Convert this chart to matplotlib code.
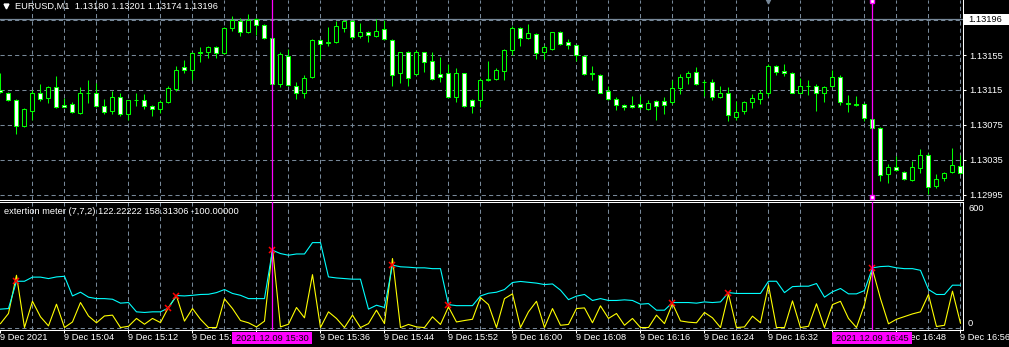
import matplotlib
matplotlib.use("Agg")
import numpy as np
import matplotlib.pyplot as plt
import matplotlib.transforms as mtransforms
from matplotlib.patches import Rectangle

plt.rcParams["font.family"] = ["Liberation Sans", "DejaVu Sans"]

# EURUSD M1, one bar per minute, 9 Dec 2021 14:56 .. 16:56
bar_open = [1.13115, 1.13112, 1.13104, 1.13074, 1.13091, 1.13112, 1.13106, 1.13118, 1.13098, 1.13099,
            1.13089, 1.13112, 1.13112, 1.13097, 1.13091, 1.13107, 1.13087, 1.13103, 1.13103, 1.13097,
            1.13093, 1.13101, 1.13116, 1.13141, 1.13138, 1.13157, 1.13158, 1.13164, 1.13157, 1.13186,
            1.13194, 1.13181, 1.13196, 1.13189, 1.13174, 1.13122, 1.13154, 1.13120, 1.13112, 1.13130,
            1.13172, 1.13169, 1.13170, 1.13186, 1.13194, 1.13177, 1.13181, 1.13177, 1.13185, 1.13172,
            1.13134, 1.13158, 1.13133, 1.13158, 1.13148, 1.13133, 1.13134, 1.13107, 1.13134, 1.13103,
            1.13103, 1.13127, 1.13128, 1.13137, 1.13161, 1.13186, 1.13175, 1.13179, 1.13158, 1.13162,
            1.13181, 1.13170, 1.13166, 1.13154, 1.13134, 1.13132, 1.13114, 1.13105, 1.13098, 1.13098,
            1.13099, 1.13093, 1.13102, 1.13102, 1.13101, 1.13117, 1.13130, 1.13136, 1.13124, 1.13124,
            1.13107, 1.13112, 1.13084, 1.13091, 1.13101, 1.13105, 1.13112, 1.13143, 1.13137, 1.13135,
            1.13112, 1.13120, 1.13120, 1.13112, 1.13119, 1.13130, 1.13100, 1.13099, 1.13099, 1.13082,
            1.13071, 1.13019, 1.13027, 1.13021, 1.13012, 1.13026, 1.13040, 1.13005, 1.13014, 1.13021,
            1.13028]
bar_high = [1.13135, 1.13113, 1.13105, 1.13094, 1.13115, 1.13122, 1.13119, 1.13131, 1.13106, 1.13101,
            1.13118, 1.13127, 1.13123, 1.13105, 1.13114, 1.13112, 1.13104, 1.13112, 1.13110, 1.13098,
            1.13104, 1.13119, 1.13143, 1.13149, 1.13159, 1.13164, 1.13165, 1.13165, 1.13187, 1.13200,
            1.13197, 1.13202, 1.13197, 1.13191, 1.13175, 1.13159, 1.13162, 1.13124, 1.13132, 1.13173,
            1.13173, 1.13187, 1.13194, 1.13195, 1.13195, 1.13192, 1.13183, 1.13196, 1.13195, 1.13173,
            1.13159, 1.13160, 1.13161, 1.13159, 1.13159, 1.13153, 1.13145, 1.13140, 1.13135, 1.13105,
            1.13129, 1.13148, 1.13140, 1.13162, 1.13188, 1.13187, 1.13191, 1.13180, 1.13166, 1.13182,
            1.13183, 1.13173, 1.13167, 1.13155, 1.13143, 1.13133, 1.13120, 1.13107, 1.13099, 1.13108,
            1.13108, 1.13104, 1.13104, 1.13107, 1.13127, 1.13133, 1.13137, 1.13141, 1.13126, 1.13128,
            1.13120, 1.13118, 1.13102, 1.13102, 1.13110, 1.13115, 1.13145, 1.13144, 1.13145, 1.13136,
            1.13129, 1.13127, 1.13122, 1.13119, 1.13138, 1.13132, 1.13109, 1.13108, 1.13100, 1.13083,
            1.13073, 1.13030, 1.13039, 1.13022, 1.13034, 1.13047, 1.13043, 1.13019, 1.13021, 1.13048,
            1.13040]
bar_low = [1.13112, 1.13102, 1.13065, 1.13073, 1.13081, 1.13102, 1.13100, 1.13094, 1.13095, 1.13089,
           1.13087, 1.13100, 1.13096, 1.13088, 1.13087, 1.13085, 1.13081, 1.13097, 1.13093, 1.13085,
           1.13089, 1.13100, 1.13114, 1.13134, 1.13126, 1.13147, 1.13152, 1.13152, 1.13156, 1.13183,
           1.13177, 1.13180, 1.13178, 1.13173, 1.13113, 1.13118, 1.13120, 1.13105, 1.13106, 1.13129,
           1.13150, 1.13165, 1.13169, 1.13182, 1.13173, 1.13175, 1.13170, 1.13176, 1.13172, 1.13120,
           1.13123, 1.13120, 1.13132, 1.13136, 1.13127, 1.13124, 1.13106, 1.13101, 1.13096, 1.13089,
           1.13095, 1.13125, 1.13126, 1.13127, 1.13155, 1.13165, 1.13173, 1.13150, 1.13150, 1.13161,
           1.13166, 1.13162, 1.13148, 1.13132, 1.13127, 1.13111, 1.13104, 1.13092, 1.13092, 1.13094,
           1.13093, 1.13092, 1.13081, 1.13087, 1.13099, 1.13110, 1.13122, 1.13121, 1.13108, 1.13104,
           1.13106, 1.13080, 1.13081, 1.13088, 1.13094, 1.13099, 1.13108, 1.13132, 1.13131, 1.13111,
           1.13111, 1.13109, 1.13091, 1.13101, 1.13118, 1.13098, 1.13090, 1.13097, 1.13080, 1.13035,
           1.13011, 1.13008, 1.13022, 1.13012, 1.13011, 1.13020, 1.12996, 1.13003, 1.13011, 1.13020,
           1.13019]
bar_close = [1.13113, 1.13103, 1.13074, 1.13093, 1.13112, 1.13105, 1.13118, 1.13096, 1.13096, 1.13090,
             1.13112, 1.13112, 1.13097, 1.13090, 1.13107, 1.13088, 1.13103, 1.13103, 1.13097, 1.13093,
             1.13101, 1.13117, 1.13138, 1.13138, 1.13157, 1.13158, 1.13164, 1.13157, 1.13186, 1.13195,
             1.13182, 1.13195, 1.13189, 1.13174, 1.13122, 1.13156, 1.13121, 1.13112, 1.13129, 1.13172,
             1.13168, 1.13170, 1.13188, 1.13194, 1.13176, 1.13181, 1.13178, 1.13183, 1.13173, 1.13132,
             1.13158, 1.13129, 1.13158, 1.13147, 1.13128, 1.13130, 1.13107, 1.13135, 1.13097, 1.13097,
             1.13127, 1.13128, 1.13138, 1.13161, 1.13186, 1.13174, 1.13180, 1.13157, 1.13164, 1.13181,
             1.13168, 1.13167, 1.13155, 1.13133, 1.13133, 1.13112, 1.13105, 1.13098, 1.13095, 1.13096,
             1.13095, 1.13100, 1.13097, 1.13098, 1.13117, 1.13130, 1.13135, 1.13122, 1.13124, 1.13107,
             1.13112, 1.13086, 1.13090, 1.13101, 1.13106, 1.13111, 1.13143, 1.13136, 1.13135, 1.13112,
             1.13120, 1.13120, 1.13112, 1.13118, 1.13130, 1.13101, 1.13099, 1.13098, 1.13083, 1.13071,
             1.13018, 1.13027, 1.13023, 1.13013, 1.13027, 1.13041, 1.13004, 1.13013, 1.13020, 1.13029,
             1.13020]

# extertion meter buffers
meter_main = [19, 68, 253, 0, 127, 52, 8, 113, 0, 27,
              121, 56, 23, 56, 60, 0, 6, 44, 16, 44,
              24, 98, 153, 31, 92, 40, 0, 0, 139, 92,
              34, 23, 3, 31, 386, 3, 16, 97, 47, 256,
              0, 76, 44, 0, 60, 0, 19, 84, 19, 334,
              0, 15, 3, 0, 52, 15, 100, 27, 34, 40,
              145, 111, 0, 140, 163, 0, 76, 127, 0, 92,
              11, 15, 92, 95, 23, 105, 44, 68, 11, 44,
              0, 0, 60, 19, 116, 32, 26, 23, 73, 47,
              0, 163, 0, 3, 55, 23, 205, 0, 0, 129,
              0, 6, 115, 0, 111, 127, 44, 0, 111, 282,
              140, 18, 40, 53, 66, 76, 160, 5, 11, 176,
              21]
meter_level = [89, 92, 224, 224, 244, 244, 237, 245, 248, 153,
               171, 147, 140, 140, 137, 118, 121, 76, 73, 76,
               76, 95, 155, 153, 156, 160, 161, 169, 184, 165,
               156, 140, 140, 140, 374, 358, 350, 356, 356, 411,
               411, 245, 240, 237, 234, 234, 89, 108, 97, 302,
               294, 292, 289, 289, 285, 285, 111, 106, 106, 106,
               153, 166, 171, 184, 218, 223, 219, 215, 208, 211,
               181, 135, 152, 160, 131, 140, 131, 131, 134, 131,
               113, 116, 84, 84, 121, 121, 121, 118, 124, 121,
               124, 169, 165, 165, 165, 165, 224, 224, 169, 198,
               200, 200, 213, 147, 173, 189, 163, 163, 179, 289,
               295, 297, 289, 285, 285, 277, 184, 160, 160, 205,
               205]
signal_bars = [2, 21, 22, 34, 49, 56, 84, 91, 109]

# labels at 15:28 and 16:40 sit under the time boxes, so they stay empty
time_ticks = list(range(0, 121, 8))
time_labels = ["9 Dec 2021", "9 Dec 15:04", "9 Dec 15:12", "9 Dec 15:20", "",
               "9 Dec 15:36", "9 Dec 15:44", "9 Dec 15:52", "9 Dec 16:00", "9 Dec 16:08",
               "9 Dec 16:16", "9 Dec 16:24", "9 Dec 16:32", "", "9 Dec 16:48",
               "9 Dec 16:56"]
price_levels = [1.12995, 1.13035, 1.13075, 1.13115, 1.13155]
bid = 1.13196
vline_bars = [34, 109]
vline_labels = ["2021.12.09 15:30", "2021.12.09 16:45"]

GRID = "#778899"
LIME = "#00FF00"
FS = 6.7
W, H = 1009, 347

fig = plt.figure(figsize=(W / 100, H / 100), dpi=100, facecolor="black")


def box(top, bottom, right=962.5):
    return [0, 1 - bottom / H, right / W, (bottom - top) / H]


ax1 = fig.add_axes(box(0, 199.5), facecolor="black")
ax2 = fig.add_axes(box(201.5, 329.5), facecolor="black")
xlim = (-0.06, -0.06 + 962.5 / 8)
for ax in (ax1, ax2):
    ax.set_xlim(*xlim)
    for x in range(4, 121, 4):
        ax.axvline(x, color=GRID, lw=0.75, dashes=(4, 3), zorder=0)
    for s in ax.spines.values():
        s.set_color("white")
        s.set_linewidth(0.75)
    ax.spines["left"].set_visible(False)
ax1.spines["top"].set_visible(False)

# --- price panel ---
x = np.arange(len(bar_open))
o, hi, lo, c = (np.array(v) for v in (bar_open, bar_high, bar_low, bar_close))
ax1.set_ylim(1.129895, 1.132181)
for lv in price_levels + [1.13195]:
    ax1.axhline(lv, color=GRID, lw=0.75, dashes=(4, 3), zorder=0)
ax1.axhline(bid, color=GRID, lw=0.9, zorder=1)
ax1.vlines(x, lo, hi, color=LIME, lw=0.75, zorder=2)
face = np.where(c < o, "white", "black")
ax1.bar(x, np.abs(c - o), bottom=np.minimum(o, c), width=0.5, color=face,
        edgecolor=LIME, linewidth=0.75, zorder=3)

ax1.set_xticks([])
ax1.yaxis.tick_right()
ax1.set_yticks(price_levels)
ax1.set_yticklabels([f"{v:.5f}" for v in price_levels])
ax1.tick_params(axis="y", colors="white", length=2.5, width=0.75, pad=2, labelsize=FS)

tb = mtransforms.blended_transform_factory(ax1.transAxes, ax1.transData)
ax1.add_patch(Rectangle((1.0016, bid - 6.4e-5), 0.05, 12.8e-5, transform=tb,
                        facecolor="white", edgecolor="none", clip_on=False, zorder=5))
ax1.text(1.0058, bid, f"{bid:.5f}", transform=tb, color="black", fontsize=FS,
         va="center", ha="left", zorder=6)

ax1.plot([0.0062], [0.97], transform=ax1.transAxes, marker="v", ms=3.5, color="white",
         ls="none", clip_on=False)
ax1.text(0.0156, 0.97, "EURUSD,M1  " + " ".join(f"{v:.5f}" for v in (1.13180, 1.13201, 1.13174, 1.13196)),
         transform=ax1.transAxes, color="white", fontsize=FS, va="center", ha="left")

# --- indicator panel ---
ax2.set_ylim(-9.5, 610)
ax2.axhline(0, color=GRID, lw=0.75, dashes=(4, 3), zorder=0)
ax2.plot(x, meter_main, color="#FFFF00", lw=0.8, zorder=2)
ax2.plot(x, meter_level, color="#00FFFF", lw=0.8, zorder=3)
ax2.plot(signal_bars, [meter_level[i] for i in signal_bars], ls="none", marker="x",
         ms=4, mew=1.1, color="red", zorder=4)
ax2.text(0.0042, 0.925, "extertion meter (7,7,2) 122.22222 158.31306 -100.00000",
         transform=ax2.transAxes, color="white", fontsize=FS, va="center", ha="left")

ax2.yaxis.tick_right()
ax2.set_yticks([0, 600])
ax2.set_yticklabels(["0", "600"])
ax2.tick_params(axis="y", colors="white", length=0, pad=4, labelsize=FS)
ticks = ax2.yaxis.get_major_ticks()
ticks[0].label2.set_va("bottom")
ticks[1].label2.set_va("top")

ax2.set_xticks(time_ticks)
ax2.set_xticklabels(time_labels, ha="left")
ax2.tick_params(axis="x", colors="white", length=2, width=0.75, pad=0.5, labelsize=FS)

# --- vertical lines with time boxes ---
bt = mtransforms.blended_transform_factory(ax2.transData, ax2.transAxes)
for b, lab in zip(vline_bars, vline_labels):
    for ax in (ax1, ax2):
        ax.axvline(b, color="#FF00FF", lw=0.9, zorder=5)
    ax2.add_patch(Rectangle((b - 5, -0.113), 10, 0.09, transform=bt, facecolor="#FF00FF",
                            edgecolor="none", clip_on=False, zorder=6))
    ax2.text(b, -0.068, lab, transform=bt, color="black", fontsize=FS, ha="center",
             va="center", zorder=7)

st = mtransforms.blended_transform_factory(ax1.transData, ax1.transAxes)
ax1.plot([vline_bars[1]] * 2, [0.997, 0.014], transform=st, ls="none", marker="s", ms=3.5,
         mfc="white", mec="#FF00FF", mew=1, clip_on=False, zorder=7)
ax1.plot([96], [0.995], transform=st, ls="none", marker="v", ms=3.5, color=GRID,
         clip_on=False, zorder=7)

fig.savefig("out.png", dpi=100, facecolor="black")
